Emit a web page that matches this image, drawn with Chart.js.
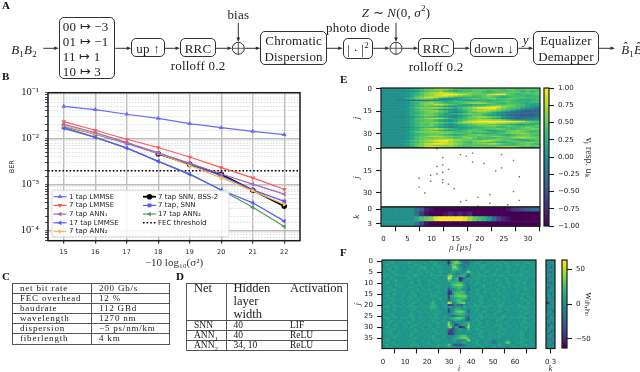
<!DOCTYPE html>
<html>
<head>
<meta charset="utf-8">
<title>Equalizer BER</title>
<script src="https://cdn.jsdelivr.net/npm/chart.js@4/dist/chart.umd.js"></script>
<style>
  html, body { margin: 0; background: #fff; }
  #page { position: relative; width: 640px; height: 372px; overflow: hidden; background: #fff;
          font-family: "Liberation Serif", serif; color: #222; filter: blur(0.4px); }
  #page canvas { position: absolute; }
  #wires { position: absolute; left: 0; top: 0; }
  .box { position: absolute; border: 1px solid #333; border-radius: 5px; box-sizing: border-box; background: #fff; }
  .txt { position: absolute; transform: translate(-50%, -50%); white-space: nowrap; font-size: 13px; letter-spacing: .2px; line-height: 1; }
  .txt sub, .txt sup { font-size: 9px; line-height: 0; }
  .panel { position: absolute; font: bold 11px "Liberation Serif", serif; color: #111; }
  table { position: absolute; border-collapse: collapse; table-layout: fixed; }
  td { border-top: 1px solid #555; border-bottom: 1px solid #555; padding: 0 0 0 7px; vertical-align: top; }
  td.split { border-right: 1.5px solid #555; }
  table { border: 1px solid #555; }
  td sub { font-size: 7px; line-height: 0; }
  #tableC td { height: 9.1px; font-size: 9px; line-height: 9.1px; letter-spacing: .8px; }
  #tableD td { height: 9px; font-size: 9.5px; line-height: 9px; }
  #tableD tr.head td { height: 36px; font-size: 12.5px; line-height: 13.3px; }
  #tableD tr.head td div { height: 36px; margin-top: -2.5px; }
</style>
</head>
<body>
<div id="page"></div>
<script>
// panel B, BER curves
const snrDb = [15, 16, 17, 18, 19, 20, 21, 22];
const ber1TapLmmse = [0.0506, 0.043, 0.034, 0.0277, 0.0212, 0.0174, 0.0144, 0.0122];
const ber7TapLmmse = [0.0234, 0.0152, 0.0097, 0.0064, 0.00398, 0.00234, 0.0014, 0.00079];
const ber7TapAnn1 = [0.0205, 0.0136, 0.0082, 0.0049, 0.0029, 0.0017, 0.00102, 0.00062];
const ber17TapLmmse = [0.0167, 0.0106, 0.0062, 0.0032, 0.00165, 0.00076, 0.0004, 0.00016];
const ber7TapAnn2 = [0.019, 0.0128, 0.0082, 0.0048, 0.0026, 0.0014, 0.00073, 0.00037];
const berSnnBss2 = [null, null, null, 0.0047, 0.00275, 0.00167, 0.00075, 0.00034];
const ber7TapSnn = [0.0185, 0.0125, 0.0079, 0.0047, 0.0028, 0.00155, 0.00077, 0.00043];
const ber17TapAnn2 = [0.0176, 0.0108, 0.0063, 0.0032, 0.00172, 0.00076, 0.00032, 0.000122];
const fecX = [14.5, 22.5];
const fecY = [0.002, 0.002];
const berDecades = [1e-1, 1e-2, 1e-3, 1e-4];
const berDecadeLabels = ['10⁻¹', '10⁻²', '10⁻³', '10⁻⁴'];

// panel C and D tables
const linkRows = [
  ['net bit rate', '200 Gb/s'], ['FEC overhead', '12 %'], ['baudrate', '112 GBd'],
  ['wavelength', '1270 nm'], ['dispersion', '−5 ps/nm/km'], ['fiberlength', '4 km']
];
const netHead = ['<div>Net</div>', '<div>Hidden<br>layer<br>width</div>', '<div>Activation</div>'];
const netRows = [
  ['SNN', '40', 'LIF'], ['ANN<sub>1</sub>', '40', 'ReLU'], ['ANN<sub>2</sub>', '34, 10', 'ReLU']
];

// panel E, letters a..u stand for -1.0 .. 1.0 in steps of 0.1 (k is zero)
const hiddenRows = [
  'kkkkk klmnp qsuut qpoop oopop opooo pop',
  'kkkkk lmnop pqqpo nooop ppopo oppoo ppo',
  'kkkkk kklmo ppqon mnoop ponop ooppn ono',
  'kkkkk lmnpq rstsr qppqp ponoo pppoo pop',
  'kkkkk lmnoq rssuu utsqp ppstu upono oop',
  'kkkkk kmopq qstts rqppo opqpo nooon mno',
  'kkkkk lnpqs tsqpo nmnnn oppon mnoop oon',
  'kkkkk mnpqq pnkjj kmnop oopqo oppon nno',
  'kkkjj ihhhi jjklm nmlkl mnmnn oonnn mnn',
  'kkkkk lnopp qpomn ooopp ponoo oponn noo',
  'kkkkk kmnpq rqpon nopqr rrpon nooon mmm',
  'kkkkk lmopq qssqp omlkl mmnoo oppoo mlm',
  'kkkkk kmnop onmlk lmnop pqrst rqpon mlk',
  'kkkkk lnpqq rsrqp nopqs uuuus qpoom lkj',
  'kkkkk lmnpp pnlkj kmopq qrssq ponlj iih',
  'kkkkk kmopq qrpom lmnpr ssrqp nmkih ggg',
  'kkkkk lmnop qponk jkmoo ppomk jihhg hhi',
  'kkkkk kmnop ponlm nopqp ponml kjihh ggh',
  'kkkkk lnopq qpnml klmnp pnmlk jhggf ggh',
  'kkkjj kkmno nmlkj jlnpq rrqpo lkjhg hhi',
  'kkkkk lmopq rsrpn mnopp qponm jihhi ijk',
  'kkkkk kmoop pnmlk mnopq rrrqq pnljj jjk',
  'kkkkk lmnop pomll mortt uuuuu uutts qpp',
  'kkkkk lmopp qqpon oqrrs sstts srrqp pon',
  'kkkkk kmnoo pomkj lmnop qqppo onmll mmn',
  'kkkkk lmopp qonml lmnoo ppqqp oponn oop',
  'kkkkj jlmno nnlkj kllmn nooon nooop qpo',
  'kkkkk lmnpq rsrpo nlmno ooppq ponop pqq',
  'kkkkk kmnop ponml mnopp onlmn oppqp poo',
  'kkkkk lnpqq rrqpp onopo ppomn npqqp ono',
  'kkkkk lmnop ppqqp opoon nmmno ppqqr qpp',
  'kkkkk kmnoo pponm lmnpp qpoon mmnop pon',
  'kkkkk lmopq rsrqq ppqpp oppqq popqq qpp',
  'kkkkk lmopp ppqpo noqrp oonno opqrs rqp',
  'kkkkk kmopq qrrss rqppo nopqq ponmm nop',
  'kkkkl mopqr stuus qqppq rssqp oppon mno',
  'kkkkk lmnpq qrssr qponp ppoon mnopp qqp',
  'kkkkl mopqs tuuts rqpop qqrsq ponop pon',
  'kkkkk lnpqr rqqqr qpopp oopoo nnopp qpp',
  'kkkkk kmoqs ttsrq ppoop qqppr stsqo oop'
];
const spikeTimes = [11.1, 18.5, 16, 17.2, 24.5, 12.3, 27, 18.5, 20.9, 12.3, 11.1, 24.5, 13.5, 23.3, 12.3, 11.1, 9.8, 28.2,
  7.4, 12.3, 9.8, 12.3, 13.5, 7.4, 14.7, 27, 8.6, 22.1, 19.6, 17.2, 28.2, 16, 22.1, 25.8, 19.6];
const spikeUnits = [0, 3, 4, 5, 4, 6, 8, 9, 10, 11, 12, 13, 14, 15, 16, 17, 18, 19,
  20, 21, 22, 23, 24, 26, 27, 29, 30, 31, 33, 35, 35, 36, 37, 38, 39];
const outputRows = [
  'kkkkk kkigc baaaa aaaaa aaaaa abdef ghh',
  'kkkkk kkhdb aaabc bcbca aaaaa aaaaa aaa',
  'kkkkk kkmop qtuuu uutrp onlhe cbaaa aaa',
  'kkkkk kkieb aaaaa aaaaa aaaaa aaaaa aaa'
];
const timeTicks = [0, 5, 10, 15, 20, 25, 30];
const unitTicks = [0, 15, 30];
const outTicks = [0, 3];
const voltTicks = [1, 0.75, 0.5, 0.25, 0, -0.25, -0.5, -0.75, -1];

// panel F, letters a..u stand for -63 .. 63 in steps of 6.3 (k is zero)
const weightRows = [
  'llklmlklkl lkllmlklll klmllklkkj dmopqkjiih ljkllmklkl llklmlklkl lkllmllkll',
  'lklllmkllk llmlkllkll lkllmlkklj dkoqpokihj kllmlkklll lkllklmllk lllkllmlkl',
  'klmlklllkl kllklmllkk llklmllkkk hmpomkiiki lklkllmllk klllmkllkl lmlkllklll',
  'llklllmlkk lklmllkmmn lkllkmllkl lkqrnlkhjk lllklmlkkl llkllklmlk lkllmlkkll',
  'lklmlkllkl lkklllmlkm kllmklllkk jmonolkjkm klllkmlkll klmllkllkl llkmlkllkl',
  'llkllmlkll klmlkklllk mllkllmlkl kkmlklkkmq mlkllklmll kllklllmkk lklllmlkll',
  'klllklmllk llkllmkllk lkmllkllkk mnlkjklmli llklmllkkl lmlkllklll kllmlkllkl',
  'lmlkllkllk lllklmlkkl klllkmlkll qrmkllmngf kllkllmllk llklmlkkll lklmllklkl',
  'llklmllkkl klmllklkll lkllmlkkll tqkmnceikl kllmlkllkl lkllklmlkl llkllmlkkl',
  'lkllklmlkl llkllkmlkk lmlkkllklk omlmndfklk llkllkmlkl klmllkllkk llmlkllkkl',
  'klmlkllkll lklmlkllkl kllmlkllkl lmnnoonljk lklmllkkll llkllklmlk kllkmlkkll',
  'llkllkmlll kllklllmkk lllklmllkl kmopqqpmkj klllklmlkl kklmllkllk lmlkllklkl',
  'lklmlkklll lklmllkkll klkllmlkkl jlmnnonlki lklkllmkkl llkllmkllk llkllmklll',
  'llkllmlkkl kllkllmkll lmlkkllkll ekjlmnkkkg kllmlkklll klmlkllkll kllklmlkkl',
  'klmllkllkl llkmlkllkl kllklmlkkl demmnnomjk llkllkmlkl lkllklmlkl lmlkkllkll',
  'lkllkmlkll lkllmlkkll lkmllkllkk dekopoonkj lklmlkllkl llkmlkllkl klklmllkkl',
  'llmlkllkkl lklllmklkl klllmlkkll emnopqpqok llkllmklkk lkllkmllkk llkllkmlkl',
  'lkllmlkkll kllmlkllkl lkllklmlkl eklmnnoomj kllklmlkkl lmlkllklkk lklmlkkllk',
  'klllkmllkl lklkllmkkl llkmlkllkk gjlmopmlkj lkllmlkkll kllmkllkll lkkllmlkll',
  'llklmlkkll klllmlkllk klmnlkklkk tqjknopqkl kllklmlkkl lklllmkllk llkllkmlkl',
  'lkllkmlkkl lklmlkklll lkmnmlkkll eefkhifljk lkmlllkkll lkllmlkkll klmlkllkkl',
  'llmlkllkll kllklmlkkl llnnmlkkll kljkllkmlk llkllkmlkl klkmllkllk lkllmllkkl',
  'lkllkmlkkl lkllmlkkll klmlmlkkkl ekkmnmlkkj kllmlkkllk llkllkmlkl kllklmlkkl',
  'klmlkllkkl llkllkmlkl lkllkmlkkl ejkopqpokg lkllklmlkk lklmlkkllk llkmlkllkl',
  'lkllmlkkll kllmlkkllk llklmllkkk jklmnonmlk kllkmlkllk lmlkkllkkl kllklmlkkl',
  'llklkmlkkl lklmlkkllk kllkmlkkll kjhjklmlkh llkllmkllk llkklmlkll lklmlkkllk',
  'klmlkllkkl llklmkkllk lklllmkkll kmnoppomhf lkllkmlkkl lkllmlkkll kllklmlkkl',
  'lkllmlkkll kllkmlkkll kllmlkkllk jkkmmlkkig kllmlkkllk klmllkkllk lklkmlkkll',
  'llkmlkkllk llmlkkllkl lkkllmlkll qkhjklklmn llkkmlkllk lklkllmkkl lkkllmlkll',
  'lkllklmkkl lkkllmlkkl lmlkkllkkl rnkefjlmkq klllmkkllk kllmlkkllk llkmlkkllk',
  'klmlkkllkk llkmlkkllk kllkkmlkll pqhklcdfmr lkllkmlkkl llklmkkllk klkllmlkkl',
  'lkkllmlkkl lkllkmkkll llkmlkkllk hgejkmlkjo kllmlkkllk lkkllmlkkl lkllkmkkll',
  'llkmlkkllk lkkllmlkkl kkllmlkllk fdgikkkkll lkkllmlkll kllmkkllkl llkmlkkllk',
  'lkllmkkllk llkmlkkllk lklkkmlkkl deekkllklk kllkmlkkll lkkllmkklk kllmlkkllk',
  'klkkllmlkl kllmkkllkl llkmlkkllk kjklmnopnl lkkllmlkkl llkmlkkllk lkllmkkllk',
  'lkllkmkkll lkkllmlkkl kllmlkkllk jklmnoppqn kllkkmlkll kllmkkllkk llkmlkkllk',
  'llmlkkllkk lkllmkkllk lkkllmlkkl kklmkjkkmr llkmlkkllk jjkkjllmkk lkkllmlkkl',
  'lkkllmkkll kllkmlkkll lmkkllkkll kkkljklmlk kllmkkllkk hijllkoqmk kllmlkkllk',
  'klmkkllkkl lkkllmlkkl kllkkmlkll pmifgfghkk lkllmkkllk llkmlkkkll lkkllmkkll',
  'lkllmkkllk llkmkkllkl lkkllmkkll mlkkjjkkkl kllkkmlkkl lmkkllkkll llkmkkllkl'
];
const readoutRows = [
  'klij', 'kjkl', 'hkjk', 'kjgl', 'jkkk', 'lihk', 'jkjk', 'kkhj', 'ikkl', 'jkjk',
  'kihk', 'lkjj', 'jgkk', 'kjkl', 'ikkj', 'jkhl', 'kljk', 'hkkj', 'jkkk', 'bgkl',
  'kjjk', 'hkkl', 'kjij', 'jkkh', 'lkjk', 'kikj', 'hjkk', 'kkjl', 'jkhk', 'kgkj',
  'kjlk', 'ikjk', 'kkgj', 'jhkk', 'klki', 'hkjk', 'kjik', 'jkkh', 'kkjk', 'ikjl'
];
const inputTicks = [0, 10, 20, 30, 40, 50, 60];
const weightUnitTicks = [0, 5, 10, 15, 20, 25, 30, 35];
const weightTicks = [50, 0, -50];

const page = document.getElementById('page');
const viridis = ['#440154', '#482878', '#3e4989', '#31688e', '#26828e', '#1f9e89', '#35b779', '#6ece58', '#b5de2b', '#fde725'];

Chart.defaults.font.family = '"DejaVu Sans", sans-serif';
Chart.defaults.font.size = 7;
Chart.defaults.color = '#222';
Chart.defaults.animation = false;
Chart.defaults.responsive = false;
Chart.defaults.events = [];
Chart.defaults.plugins.legend.display = false;
Chart.defaults.plugins.tooltip.enabled = false;

function hexToRgb(hex) {
  return [1, 3, 5].map(i => parseInt(hex.substr(i, 2), 16));
}

// t from 0 to 1
function viridisColor(t) {
  const pos = Math.min(Math.max(t, 0), 1) * (viridis.length - 1);
  const i = Math.min(Math.floor(pos), viridis.length - 2);
  const a = hexToRgb(viridis[i]);
  const b = hexToRgb(viridis[i + 1]);
  const c = a.map((v, n) => Math.round(v + (b[n] - v) * (pos - i)));
  return `rgb(${c[0]},${c[1]},${c[2]})`;
}

function rowLevels(row) {
  return [...row.replace(/ /g, '')].map(ch => (ch.charCodeAt(0) - 107) / 10);
}

function rowsToCells(rows, scale) {
  const cells = [];
  rows.forEach((row, r) => {
    rowLevels(row).forEach((level, c) => {
      cells.push({ x: c, y: [r - 0.5, r + 0.5], v: level * scale });
    });
  });
  return cells;
}

// plot rectangle plus margins around it, the canvas is as large as both
function addCanvas(plot, m) {
  const c = document.createElement('canvas');
  c.width = Math.ceil(plot.w + m.l + m.r);
  c.height = Math.ceil(plot.h + m.t + m.b);
  c.style.left = (plot.x - m.l) + 'px';
  c.style.top = (plot.y - m.t) + 'px';
  c.style.width = c.width + 'px';
  c.style.height = c.height + 'px';
  page.appendChild(c);
  return c.getContext('2d');
}

const framePlugin = {
  id: 'frame',
  afterDraw(chart, args, opts) {
    const a = chart.chartArea;
    const ctx = chart.ctx;
    ctx.save();
    ctx.strokeStyle = '#1a1a1a';
    ctx.lineWidth = opts.width || 1.2;
    ctx.strokeRect(a.left, a.top, a.right - a.left, a.bottom - a.top);
    ctx.restore();
  }
};

// the margins are fixed by hand, so labels at the ends must not push the plot inwards
function pinSize(s, prop, size) {
  s[prop] = size;
  s.paddingTop = 0;
  s.paddingBottom = 0;
  s.paddingLeft = 0;
  s.paddingRight = 0;
}

function fixedAxis(size, ticksList, extra) {
  const horizontal = extra && extra.horizontal;
  const axis = {
    type: 'linear',
    grid: { drawOnChartArea: false, tickLength: 5, tickColor: '#1a1a1a', tickWidth: 1.1 },
    border: { display: false },
    ticks: { autoSkip: false, maxRotation: 0, padding: 4, callback: v => String(v).replace('-', '−') },
    afterBuildTicks: s => { s.ticks = ticksList.map(v => ({ value: v })); }
  };
  axis.afterFit = s => pinSize(s, horizontal ? 'height' : 'width', size);
  return axis;
}

function axisTitle(text, pad, style, size) {
  return { display: true, text: text, padding: { top: pad, bottom: pad }, font: { family: '"Liberation Serif", serif', size: size || 9, style: style || 'italic' }, color: '#333' };
}

function heatmap(plot, m, rows, scale, xr, yr, xTicks, yTicks, xTitle, yTitle) {
  const xAxis = fixedAxis(m.b, xTicks, { horizontal: true });
  xAxis.min = xr[0];
  xAxis.max = xr[1];
  xAxis.offset = false;
  xAxis.display = m.b > 0;
  if (xTitle) xAxis.title = axisTitle(xTitle, 0);
  const yAxis = fixedAxis(m.l, yTicks);
  yAxis.min = yr[0];
  yAxis.max = yr[1];
  yAxis.reverse = true;
  if (yTitle) yAxis.title = axisTitle(yTitle, 11);
  return new Chart(addCanvas(plot, m), {
    type: 'bar',
    data: {
      datasets: [{
        data: rowsToCells(rows, scale),
        backgroundColor: ctx => viridisColor((ctx.raw.v + scale) / (2 * scale)),
        barPercentage: 1,
        categoryPercentage: 1,
        borderWidth: 0
      }]
    },
    options: {
      layout: { autoPadding: false, padding: { top: m.t, right: m.r, left: 0, bottom: 0 } },
      scales: { x: xAxis, y: yAxis }
    },
    plugins: [framePlugin]
  });
}

function colorbar(plot, m, range, tickList, format, title, titlePad, titleSize) {
  const xAxis = { type: 'category', labels: ['bar'], display: false, offset: true };
  const yAxis = fixedAxis(m.r, tickList);
  yAxis.position = 'right';
  yAxis.min = range[0];
  yAxis.max = range[1];
  yAxis.ticks.callback = format;
  yAxis.title = axisTitle(title, titlePad, 'normal', titleSize);
  return new Chart(addCanvas(plot, m), {
    type: 'bar',
    data: {
      labels: ['bar'],
      datasets: [{
        data: [range],
        barPercentage: 1,
        categoryPercentage: 1,
        borderWidth: 0,
        backgroundColor: ctx => {
          const a = ctx.chart.chartArea;
          if (!a) return viridis[5];
          const g = ctx.chart.ctx.createLinearGradient(0, a.bottom, 0, a.top);
          viridis.forEach((col, i) => g.addColorStop(i / (viridis.length - 1), col));
          return g;
        }
      }]
    },
    options: {
      layout: { autoPadding: false, padding: { top: m.t, left: m.l, bottom: m.b, right: 0 } },
      scales: { x: xAxis, y: yAxis }
    },
    plugins: [framePlugin]
  });
}

// ---- panel B ----
function series(label, values, color, pointStyle, rotation) {
  return {
    label: label,
    data: values.map((v, i) => ({ x: snrDb[i], y: v })),
    borderColor: color,
    backgroundColor: color,
    borderWidth: 1.2,
    pointStyle: pointStyle,
    pointRotation: rotation,
    pointRadius: 2.7,
    pointBorderWidth: 0,
    tension: 0
  };
}

const berData = [
  series('1 tap LMMSE', ber1TapLmmse, '#6a6afa', 'triangle', 0),
  series('7 tap LMMSE', ber7TapLmmse, '#fb5a5a', 'triangle', 180),
  series('7 tap ANN₁', ber7TapAnn1, '#a566b5', 'triangle', 270),
  series('17 tap LMMSE', ber17TapLmmse, '#5a5afa', 'triangle', 270),
  series('7 tap ANN₂', ber7TapAnn2, '#fdb94f', 'triangle', 90),
  series('7 tap, SNN', ber7TapSnn, '#5a5afa', 'rect', 0),
  series('17 tap ANN₂', ber17TapAnn2, '#4f9a58', 'triangle', 270),
  series('7 tap SNN, BSS-2', berSnnBss2, '#000000', 'circle', 0),
  {
    label: 'FEC threshold',
    data: fecX.map((x, i) => ({ x: x, y: fecY[i] })),
    borderColor: '#000',
    borderWidth: 1.5,
    borderDash: [1.6, 2],
    pointRadius: 0
  }
];
berData[7].borderWidth = 1.8;
berData[7].pointRadius = 2.8;

const legendColumns = [
  { glyph: 53.5, text: 69, labels: ['1 tap LMMSE', '7 tap LMMSE', '7 tap ANN₁', '17 tap LMMSE', '7 tap ANN₂'] },
  { glyph: 143, text: 158, labels: ['7 tap SNN, BSS-2', '7 tap, SNN', '17 tap ANN₂', 'FEC threshold'] }
];

const legendPlugin = {
  id: 'insideLegend',
  afterDraw(chart) {
    const ctx = chart.ctx;
    const top = chart.canvas.offsetTop;
    ctx.save();
    ctx.fillStyle = 'rgba(255,255,255,0.85)';
    ctx.strokeStyle = '#d4d4d4';
    ctx.lineWidth = 0.8;
    ctx.beginPath();
    ctx.roundRect(52, 190.7 - top, 177, 46, 2);
    ctx.fill();
    ctx.stroke();
    ctx.font = '7px "DejaVu Sans", sans-serif';
    ctx.textBaseline = 'middle';
    legendColumns.forEach(col => {
      col.labels.forEach((label, i) => {
        const d = chart.data.datasets.find(s => s.label === label);
        const y = 196.7 + i * 8.7 - top;
        ctx.strokeStyle = d.borderColor;
        ctx.fillStyle = d.borderColor;
        ctx.lineWidth = d.borderWidth;
        ctx.setLineDash(d.borderDash || []);
        ctx.beginPath();
        ctx.moveTo(col.glyph, y);
        ctx.lineTo(col.glyph + 13, y);
        ctx.stroke();
        ctx.setLineDash([]);
        if (d.pointRadius) {
          Chart.helpers.drawPoint(ctx, { pointStyle: d.pointStyle, rotation: d.pointRotation, radius: d.pointRadius, borderWidth: 0 }, col.glyph + 6.5, y);
        }
        ctx.fillStyle = '#222';
        ctx.fillText(label, col.text, y);
      });
    });
    ctx.restore();
  }
};

function isDecade(v) {
  const e = Math.log10(v);
  return Math.abs(e - Math.round(e)) < 1e-6;
}

new Chart(addCanvas({ x: 48, y: 92.7, w: 252, h: 148 }, { l: 48, t: 7.7, r: 20, b: 29.3 }), {
  type: 'line',
  data: { datasets: berData },
  options: {
    layout: { autoPadding: false, padding: { top: 7.7, right: 20, left: 0, bottom: 0 } },
    scales: {
      x: {
        type: 'linear',
        min: 14.5,
        max: 22.5,
        afterBuildTicks: s => { s.ticks = snrDb.map(v => ({ value: v })); },
        afterFit: s => pinSize(s, 'height', 29.3),
        grid: { color: '#bdbdbd', lineWidth: 1.4, tickLength: 3, tickColor: '#1a1a1a', tickWidth: 1 },
        border: { display: false },
        ticks: { autoSkip: false, maxRotation: 0, padding: 4.5, font: { size: 6.5 } },
        title: axisTitle('−10 log₁₀(σ²)', 0, 'normal', 11)
      },
      y: {
        type: 'logarithmic',
        min: 0.00006,
        max: 0.1,
        afterFit: s => pinSize(s, 'width', 48),
        grid: {
          color: ctx => isDecade(ctx.tick.value) ? '#bdbdbd' : '#d4d4d4',
          lineWidth: ctx => isDecade(ctx.tick.value) ? 1.4 : 0.8,
          tickLength: 3,
          tickColor: '#1a1a1a',
          tickWidth: 0.8
        },
        border: { display: false, dash: ctx => isDecade(ctx.tick.value) ? [] : [1.5, 1.5] },
        ticks: {
          autoSkip: false,
          padding: 6,
          font: { family: '"Liberation Serif", serif', size: 10.5 },
          callback: v => {
            const i = berDecades.findIndex(d => Math.abs(Math.log10(d) - Math.log10(v)) < 1e-6);
            return i >= 0 ? berDecadeLabels[i] : '';
          }
        },
        title: { display: true, text: 'BER', padding: { top: 8 }, font: { size: 6.5 } }
      }
    }
  },
  plugins: [{ id: 'frameB', afterDraw: (c, a, o) => framePlugin.afterDraw(c, a, { width: 1.5 }) }, legendPlugin]
});

// ---- panel E ----
const timeRange = [-0.5, 32.5];
heatmap({ x: 381, y: 88, w: 159, h: 60 }, { l: 41, t: 4, r: 1, b: 0 }, hiddenRows, 1, timeRange, [-0.5, 39.5], [], unitTicks, null, 'j');

new Chart(addCanvas({ x: 381, y: 148, w: 159, h: 59 }, { l: 41, t: 5, r: 1, b: 0 }), {
  type: 'scatter',
  data: {
    datasets: [{
      data: spikeTimes.map((t, i) => ({ x: t, y: spikeUnits[i] })),
      pointStyle: 'rect',
      pointRadius: 1,
      pointBorderWidth: 0,
      backgroundColor: '#6e6e6e'
    }]
  },
  options: {
    layout: { autoPadding: false, padding: { top: 5, right: 1, left: 0, bottom: 0 } },
    scales: {
      x: { type: 'linear', display: false, min: timeRange[0], max: timeRange[1] },
      y: Object.assign(fixedAxis(41, unitTicks), { min: -0.5, max: 39.5, reverse: true, title: axisTitle('j', 11) })
    }
  },
  plugins: [framePlugin]
});

heatmap({ x: 381, y: 207, w: 159, h: 19.3 }, { l: 41, t: 5, r: 1, b: 26.7 }, outputRows, 1, timeRange, [-0.5, 3.5], timeTicks, outTicks, 'ρ [µs]', 'k');

colorbar({ x: 544.3, y: 88, w: 4.2, h: 138 }, { l: 1, t: 4, r: 48, b: 4 }, [-1, 1], voltTicks,
  v => v.toFixed(2).replace('-', '−'), 'vⱼ resp. uₖ', 2, 10);

// ---- panel F ----
heatmap({ x: 381.7, y: 260, w: 153.3, h: 87.7 }, { l: 41, t: 2, r: 1, b: 25.5 }, weightRows, 63, [-0.5, 69.5], [-0.5, 39.5], inputTicks, weightUnitTicks, 'i', 'j');
heatmap({ x: 546, y: 260, w: 8.7, h: 87.7 }, { l: 1, t: 2, r: 1, b: 25.5 }, readoutRows, 63, [-0.5, 3.5], [-0.5, 39.5], outTicks, [], 'k', null);
colorbar({ x: 561.7, y: 260, w: 4.3, h: 87.7 }, { l: 1, t: 2, r: 48, b: 4 }, [-63, 63], weightTicks,
  v => String(v).replace('-', '−'), 'wᵢₕ,ₕₒ', 20, 11);

// ---- panel A, block diagram ----
function addText(html, x, y, css) {
  const d = document.createElement('div');
  d.className = 'txt';
  d.innerHTML = html;
  d.style.left = x + 'px';
  d.style.top = y + 'px';
  if (css) d.style.cssText += css;
  page.appendChild(d);
}

function addBox(x1, y1, x2, y2, lines) {
  const d = document.createElement('div');
  d.className = 'box';
  d.style.left = x1 + 'px';
  d.style.top = y1 + 'px';
  d.style.width = (x2 - x1) + 'px';
  d.style.height = (y2 - y1) + 'px';
  page.appendChild(d);
  if (lines) {
    const step = 15.5;
    const mid = (y1 + y2) / 2;
    lines.forEach((t, i) => addText(t, (x1 + x2) / 2, mid + (i - (lines.length - 1) / 2) * step));
  }
}

const wireY = 48.3;
const wires = [[43.3, 58.7], [115.3, 131.3], [165, 180], [216, 232], [244.6, 260.3], [327, 342.7], [373.3, 389.7], [402.3, 418.3], [454, 470], [518.3, 533.3], [598.7, 615]];
let svg = '<svg id="wires" width="640" height="372" xmlns="http://www.w3.org/2000/svg" stroke="#333" fill="#333">';
wires.forEach(w => {
  svg += `<line x1="${w[0]}" y1="${wireY}" x2="${w[1] - 2}" y2="${wireY}" stroke-width="1"/>`;
  svg += `<path d="M${w[1]} ${wireY} l-4.5 -1.8 v3.6 z" stroke="none"/>`;
});
[238.3, 396].forEach(x => {
  svg += `<line x1="${x}" y1="22.7" x2="${x}" y2="40" stroke-width="1"/>`;
  svg += `<path d="M${x} 42 l-1.8 -4.5 h3.6 z" stroke="none"/>`;
  svg += `<circle cx="${x}" cy="${wireY}" r="6" fill="#fff" stroke-width="1"/>`;
  svg += `<path d="M${x - 6} ${wireY} h12 M${x} ${wireY - 6} v12" stroke-width="0.8" fill="none"/>`;
});
svg += '</svg>';
page.insertAdjacentHTML('beforeend', svg);

addText('<i>B</i><sub>1</sub><i>B</i><sub>2</sub>', 24, 49);
addBox(58.7, 17.3, 115.3, 78.7);
['00 ↦ −3', '01 ↦ −1', '11 ↦ 1', '10 ↦ 3'].forEach((t, i) => {
  addText(t, 62.7, 25.7 + i * 15, 'transform:translateY(-50%);');
});
addBox(131.3, 38.3, 165, 57.3, ['up ↑']);
addBox(180, 38.3, 216, 57.3, ['RRC']);
addText('rolloff 0.2', 198, 65);
addText('bias', 238.3, 14);
addBox(260.3, 30.7, 327, 65.3, ['Chromatic', 'Dispersion']);
addBox(342.7, 37.7, 373.3, 59.3, ['| · |<sup>2</sup>']);
addText('photo diode', 358, 26.7);
addText('<i>Z</i> ∼ <i>N</i>(0, <i>σ</i><sup>2</sup>)', 396, 11.7);
addBox(418.3, 38.3, 454, 57.3, ['RRC']);
addText('rolloff 0.2', 436, 65.7);
addBox(470, 38.3, 518.3, 57.3, ['down ↓']);
addText('<i>y</i>', 525.7, 39.3);
addBox(533.3, 30.7, 598.7, 65.3, ['Equalizer', 'Demapper']);
addText('<i>B̂</i><sub>1</sub><i>B̂</i><sub>2</sub>', 634, 49);

// ---- panel letters ----
[['A', 2, -1], ['B', 2, 70], ['C', 2, 270], ['D', 176, 270], ['E', 340, 73], ['F', 340, 246]].forEach(p => {
  const d = document.createElement('div');
  d.className = 'panel';
  d.textContent = p[0];
  d.style.left = p[1] + 'px';
  d.style.top = p[2] + 'px';
  page.appendChild(d);
});

// ---- panels C and D, tables ----
function addTable(id, x, y, widths, head, rows) {
  const t = document.createElement('table');
  t.id = id;
  t.style.left = x + 'px';
  t.style.top = y + 'px';
  t.style.width = widths.reduce((a, b) => a + b, 0) + 'px';
  let html = '<colgroup>' + widths.map(w => `<col style="width:${w}px">`).join('') + '</colgroup>';
  const rowHtml = (row, cls) => `<tr class="${cls}">` + row.map((c, i) => `<td class="${i === 0 ? 'split' : ''}">${c}</td>`).join('') + '</tr>';
  if (head) html += rowHtml(head, 'head');
  rows.forEach(r => { html += rowHtml(r, ''); });
  t.innerHTML = html;
  page.appendChild(t);
}

addTable('tableC', 12, 283, [79, 78], null, linkRows);
addTable('tableD', 186, 283, [39.5, 57, 64], netHead, netRows);
</script>
</body>
</html>
